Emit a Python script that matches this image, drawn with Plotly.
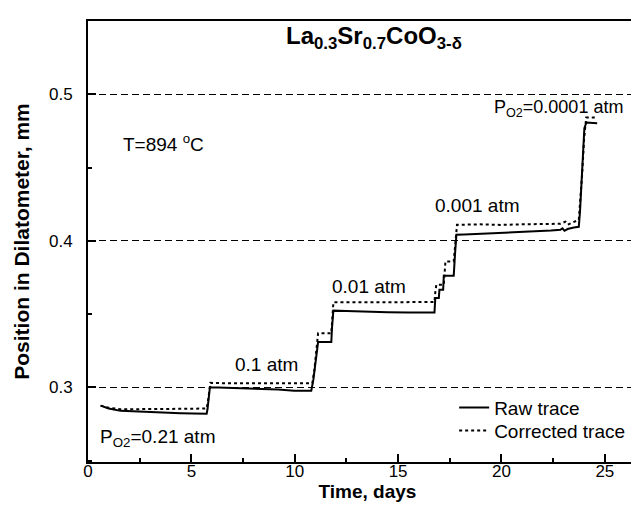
import plotly.graph_objects as go

# ---- data ----
raw_day = [0.61, 1.0, 1.58, 2.3, 3.03, 3.8, 4.48, 5.1, 5.74, 5.78, 5.84, 5.9,
           5.94, 6.5, 7.2, 7.87, 8.5, 9.2, 9.97, 10.4, 10.8, 10.9, 11.0, 11.13,
           11.4, 11.77, 11.8, 11.87, 12.5, 13.5, 14.5, 15.5, 16.2, 16.76,
           16.8, 16.97, 17.0, 17.18, 17.21, 17.69, 17.75, 17.82,
           18.2, 18.98, 19.5, 19.95, 20.5, 20.92, 21.4, 21.88, 22.4, 22.85,
           22.95, 23.05, 23.2, 23.5, 23.74, 23.8, 23.88, 23.95, 24.01, 24.11, 24.63]
raw_pos = [0.2875, 0.2855, 0.2839, 0.2834, 0.2830, 0.2826, 0.2823, 0.2821, 0.2820, 0.2850, 0.2930, 0.3005,
           0.3000, 0.2998, 0.2996, 0.2993, 0.2988, 0.2984, 0.2977, 0.2978, 0.2977, 0.3050, 0.3180, 0.3309,
           0.3309, 0.3309, 0.3400, 0.3523, 0.3520, 0.3514, 0.3512, 0.3510, 0.3511, 0.3511,
           0.3609, 0.3609, 0.3666, 0.3666, 0.3761, 0.3761, 0.3900, 0.4041,
           0.4043, 0.4048, 0.4052, 0.4050, 0.4055, 0.4057, 0.4062, 0.4066, 0.4070, 0.4075,
           0.4085, 0.4068, 0.4080, 0.4090, 0.4095, 0.4200, 0.4400, 0.4600, 0.4768, 0.4807, 0.4802]

corr_day = [0.61, 1.0, 1.58, 2.3, 3.03, 3.8, 4.48, 5.1, 5.74, 5.8, 5.86, 5.92,
            6.5, 7.87, 9.2, 10.0, 10.85, 10.95, 11.05, 11.13, 11.77, 11.82, 11.87,
            13.5, 16.76, 16.8, 16.85, 17.21, 17.29, 17.69, 17.78, 17.85,
            18.98, 19.95, 20.92, 21.88, 22.85, 23.09, 23.2, 23.74, 23.8, 23.9, 24.0, 24.1, 24.63]
corr_pos = [0.2875, 0.2860, 0.2850, 0.2852, 0.2853, 0.2852, 0.2853, 0.2853, 0.2855, 0.2900, 0.2980, 0.3030,
            0.3028, 0.3028, 0.3027, 0.3027, 0.3027, 0.3120, 0.3250, 0.3368, 0.3368, 0.3470, 0.3580,
            0.3580, 0.3582, 0.3650, 0.3700, 0.3700, 0.3859, 0.3859, 0.3980, 0.4109,
            0.4112, 0.4108, 0.4112, 0.4114, 0.4116, 0.4130, 0.4110, 0.4143, 0.4250, 0.4450, 0.4700, 0.4841, 0.4841]

series_names = ["Raw trace", "Corrected trace"]
x_ticks = [0, 5, 10, 15, 20, 25]
y_ticks = [0.3, 0.4, 0.5]
y_tick_text = ["0.3", "0.4", "0.5"]

FONT = "Liberation Sans, Arial, Helvetica, sans-serif"

fig = go.Figure()
fig.add_trace(go.Scatter(x=raw_day, y=raw_pos, mode="lines", name=series_names[0],
                         legend="legend", line=dict(color="black", width=2)))
fig.add_trace(go.Scatter(x=corr_day, y=corr_pos, mode="lines", name=series_names[1],
                         legend="legend2", line=dict(color="black", width=2, dash="dot")))

ann = dict(showarrow=False, font=dict(family=FONT, size=19, color="black"))
fig.add_annotation(x=0.5, y=0.2655, xanchor="left", yanchor="middle",
                   text="P<sub>O2</sub>=0.21 atm", **ann)
fig.add_annotation(x=8.61, y=0.3155, xanchor="center", yanchor="middle", text="0.1 atm", **ann)
fig.add_annotation(x=13.6, y=0.3689, xanchor="center", yanchor="middle", text="0.01 atm", **ann)
fig.add_annotation(x=18.83, y=0.4239, xanchor="center", yanchor="middle", text="0.001 atm", **ann)
fig.add_annotation(x=19.55, y=0.4905, xanchor="left", yanchor="middle",
                   text="P<sub>O2</sub>=0.0001 atm",
                   showarrow=False, font=dict(family=FONT, size=18, color="black"))
fig.add_annotation(x=1.6, y=0.4670, xanchor="left", yanchor="middle",
                   text="T=894 <sup>o</sup>C", **ann)
fig.add_annotation(x=(366 - 80) / 559, y=0.962, xref="paper", yref="paper",
                   xanchor="center", yanchor="middle", showarrow=False,
                   text="<b>La<sub>0.3</sub>Sr<sub>0.7</sub>CoO<sub>3-δ</sub></b>",
                   font=dict(family=FONT, size=24, color="black"))

leg = dict(xanchor="left", yanchor="middle", bgcolor="rgba(0,0,0,0)",
           font=dict(family=FONT, size=19, color="black"), borderwidth=0)
fig.update_layout(
    width=639, height=506,
    margin=dict(l=80, r=0, t=13, b=52),
    paper_bgcolor="white", plot_bgcolor="white",
    font=dict(family=FONT, size=17, color="black"),
    showlegend=True,
    legend=dict(x=0.655, y=(454.3 - 400) / 441.6, **leg),
    legend2=dict(x=0.655, y=(454.3 - 423) / 441.6, **leg),
    xaxis=dict(range=[0, 27.04], tickvals=x_ticks, ticks="inside", ticklen=8, tickwidth=2,
               tickcolor="black", showline=True, linecolor="black", linewidth=2,
               mirror=True, showgrid=False, zeroline=False,
               minor=dict(ticks="inside", ticklen=4, tickwidth=2, dtick=2.5, tick0=0,
                          tickcolor="black", showgrid=False),
               ticklabelstandoff=-7,
               title=dict(text="<b>Time, days</b>", font=dict(family=FONT, size=19), standoff=0)),
    yaxis=dict(range=[0.249, 0.55], tickvals=y_ticks, ticktext=y_tick_text, ticks="inside",
               ticklen=8, tickwidth=2, tickcolor="black", showline=True, linecolor="black",
               linewidth=2, mirror=False, showgrid=True, gridcolor="black", gridwidth=1,
               griddash="7px,4px", zeroline=False,
               minor=dict(ticks="inside", ticklen=4, tickwidth=2, tickvals=[0.25, 0.35, 0.45],
                          tickcolor="black", showgrid=False),
               ticklabelstandoff=10,
               title=dict(text="<b>Position in Dilatometer, mm</b>",
                          font=dict(family=FONT, size=21), standoff=14)),
)

fig.write_html("out.html")
